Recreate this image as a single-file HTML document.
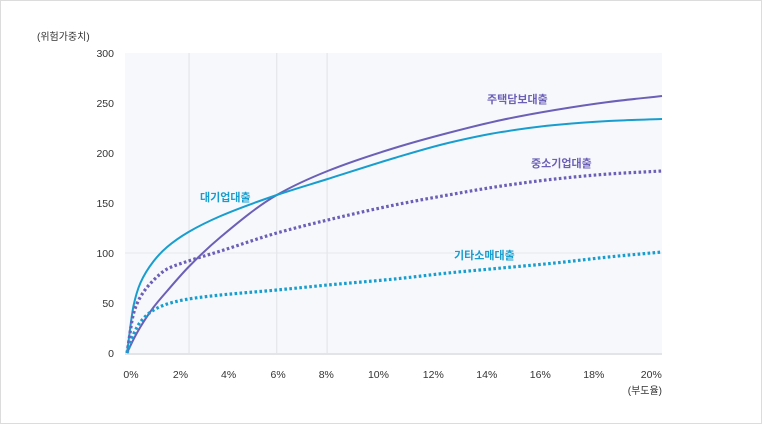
<!DOCTYPE html>
<html><head><meta charset="utf-8">
<style>
html,body{margin:0;padding:0;background:#fff;}
#wrap{position:relative;width:760px;height:422px;border:1px solid #dcdcdc;overflow:hidden;}
svg text{font-family:"Liberation Sans","Noto Sans CJK KR",sans-serif;}
</style></head>
<body>
<div id="wrap">
<svg id="chart" width="762" height="424" style="position:absolute;left:-1px;top:-1px"></svg>
</div>
<script>
const xValues=[0,0.25,0.5,1,1.5,2.3,3.5,5.6,7.5,10,12,14,16,18,20];
const corpLoan=[0,48,70,92,106,121,137,158,174,195,210,221,228,232,234];
const mortgage=[0,14,26,46,62,86,116,158,182,205,220,233,243,251,257];
const smeLoan=[0,40,56,73,84,92,102,120,133,148,158,167,174,179,182];
const retailLoan=[0,19,31,43,49,54,58,63,68,74,80,85,90,96,101];
const yTicks=[0,50,100,150,200,250,300];
const xTickLabels=["0%","2%","4%","6%","8%","10%","12%","14%","16%","18%","20%"];
const xTickVals=[0.15,2.0,3.8,5.65,7.45,9.4,11.45,13.45,15.45,17.45,19.6];
const gridVals=[2.32,5.6,7.48];
const hGridVals=[100];
const NS="http://www.w3.org/2000/svg";
const svg=document.getElementById('chart');
const X0=127,X1=662,Y0=353,Y1=53;
const xs=v=>X0+(X1-X0)*v/20;
const ys=v=>Y0-(Y0-Y1)*v/300;
function mk(t,a){const e=document.createElementNS(NS,t);for(const k in a)e.setAttribute(k,a[k]);svg.appendChild(e);return e;}
const bg=mk('rect',{x:125,y:Y1,width:X1-125,height:Y0-Y1,fill:'#f7f8fb'});


gridVals.forEach(g=>{const l=mk('line',{x1:xs(g),x2:xs(g),y1:Y1,y2:Y0,stroke:'#e0e2e6','stroke-width':1});

});
hGridVals.forEach(g=>{const l=mk('line',{x1:125,x2:X1,y1:ys(g),y2:ys(g),stroke:'#e6e7eb','stroke-width':1});

});
const ax=mk('line',{x1:125,x2:X1,y1:Y0+1,y2:Y0+1,stroke:'#e3e4e8','stroke-width':2});


yTicks.forEach(v=>{const t=mk('text',{x:114,y:ys(v)+4,'text-anchor':'end','font-size':10.5,fill:'#333'});t.textContent=v;

});
xTickLabels.forEach((s,i)=>{const t=mk('text',{x:xs(xTickVals[i]),y:378,'text-anchor':'middle','font-size':10.5,fill:'#333'});t.textContent=s;

});
let t=mk('text',{x:37,y:40,'font-size':10,fill:'#333'});t.textContent='(위험가중치)';


t=mk('text',{x:662,y:394,'text-anchor':'end','font-size':10,fill:'#333'});t.textContent='(부도율)';


function path(vals){
  const p=xValues.map((x,i)=>[xs(x),ys(vals[i])]);const n=p.length;
  const d=[],m=new Array(n);
  for(let i=0;i<n-1;i++)d.push((p[i+1][1]-p[i][1])/(p[i+1][0]-p[i][0]));
  m[0]=d[0];m[n-1]=d[n-2];
  for(let i=1;i<n-1;i++){
    if(d[i-1]*d[i]<=0)m[i]=0;
    else{const h0=p[i][0]-p[i-1][0],h1=p[i+1][0]-p[i][0];const w1=2*h1+h0,w2=h1+2*h0;m[i]=(w1+w2)/(w1/d[i-1]+w2/d[i]);}
  }
  let s='M'+p[0][0]+','+p[0][1];
  for(let i=0;i<n-1;i++){const h=(p[i+1][0]-p[i][0])/3;
    s+=' C'+(p[i][0]+h)+','+(p[i][1]+m[i]*h)+' '+(p[i+1][0]-h)+','+(p[i+1][1]-m[i+1]*h)+' '+p[i+1][0]+','+p[i+1][1];}
  return s;}
const series=[[mortgage,'#6b5fb7',false,'mortgage-line'],[corpLoan,'#179ecf',false,'corp-loan-line'],[smeLoan,'#6b5fb7',true,'sme-loan-line'],[retailLoan,'#179ecf',true,'retail-loan-line']];
series.forEach(s=>{const a={d:path(s[0]),fill:'none',stroke:s[1],'stroke-width':s[2]?3.2:2};if(s[2])a['stroke-dasharray']='2.6 2.4';
const p=mk('path',a);

});
const labels=[['대기업대출',200,201,'#179ecf','corp-loan-label'],['주택담보대출',487,103,'#6b5fb7','mortgage-label'],['중소기업대출',531,167,'#6b5fb7','sme-loan-label'],['기타소매대출',454,259,'#179ecf','retail-loan-label']];
labels.forEach(l=>{const e=mk('text',{x:l[1],y:l[2],'font-size':11,'font-weight':'bold',fill:l[3]});e.textContent=l[0];

});
</script>
</body></html>
